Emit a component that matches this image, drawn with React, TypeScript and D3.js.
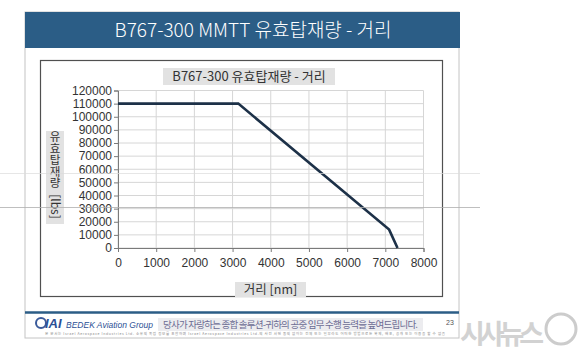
import { useRef, useEffect } from 'react';
import * as d3 from 'd3';

const distanceNm = [0, 3150, 7100, 7320];
const payloadLbs = [110000, 110000, 14000, 0];

const xTicks = [0, 1000, 2000, 3000, 4000, 5000, 6000, 7000, 8000];
const yTicks = [0, 10000, 20000, 30000, 40000, 50000, 60000, 70000, 80000, 90000, 100000, 110000, 120000];

const slideTitle = 'B767-300 MMTT 유효탑재량 - 거리';
const chartTitle = 'B767-300 유효탑재량 - 거리';
const yLabelWord = '유효탑재량';
const yLabelUnit = '[lbs]';
const xLabel = '거리 [nm]';
const footerText = '당사가 자랑하는 종합 솔루션-귀하의 공중 임무 수행 능력을 높여드립니다.';
const finePrint =
  '본 문서는 Israel Aerospace Industries Ltd. 소유의 독점 정보를 포함하며 Israel Aerospace Industries Ltd.의 사전 서면 동의 없이는 전체 또는 일부라도 어떠한 방법으로든 복제, 배포, 공개 또는 이용을 할 수 없음';

const W = 580;
const H = 352;
const KR = '"Noto Sans CJK KR", "Noto Sans", sans-serif';
const LAT = '"Liberation Sans", Arial, sans-serif';

export default function App() {
  const svgRef = useRef<SVGSVGElement>(null);

  useEffect(() => {
    const svg = d3.select(svgRef.current);
    svg.selectAll('*').remove();

    svg.append('rect').attr('width', W).attr('height', H).attr('fill', '#ffffff');

    // slide page
    svg
      .append('rect')
      .attr('x', 25)
      .attr('y', 12)
      .attr('width', 434)
      .attr('height', 326)
      .attr('fill', '#ffffff')
      .attr('stroke', '#c4c4c4')
      .attr('stroke-width', 1);

    // header band
    svg
      .append('rect')
      .attr('x', 25)
      .attr('y', 12)
      .attr('width', 435)
      .attr('height', 36)
      .attr('fill', '#2b5d86');
    svg
      .append('text')
      .attr('x', 253)
      .attr('y', 37)
      .attr('text-anchor', 'middle')
      .attr('fill', '#ffffff')
      .style('font-family', KR)
      .style('font-size', '19px')
      .style('font-weight', '300')
      .text(slideTitle);

    // chart frame
    svg
      .append('rect')
      .attr('x', 40.5)
      .attr('y', 60.5)
      .attr('width', 402)
      .attr('height', 236)
      .attr('fill', '#ffffff')
      .attr('stroke', '#505050')
      .attr('stroke-width', 1.2);

    const x = d3.scaleLinear().domain([0, 8000]).range([118, 423.5]);
    const y = d3.scaleLinear().domain([0, 120000]).range([248, 90.5]);

    // grid
    const grid = svg.append('g');
    xTicks.forEach((t) => {
      grid
        .append('line')
        .attr('x1', x(t))
        .attr('x2', x(t))
        .attr('y1', y(0))
        .attr('y2', y(120000))
        .attr('stroke', '#d6d6d6')
        .attr('stroke-width', 1);
    });
    yTicks.forEach((t) => {
      grid
        .append('line')
        .attr('x1', x(0))
        .attr('x2', x(8000))
        .attr('y1', y(t))
        .attr('y2', y(t))
        .attr('stroke', '#d6d6d6')
        .attr('stroke-width', 1);
    });

    // axes
    const yAxis = svg
      .append('g')
      .attr('transform', `translate(${x(0)},0)`)
      .call(d3.axisLeft(y).tickValues(yTicks).tickFormat(d3.format('d')).tickSize(4).tickPadding(2));
    const xAxis = svg
      .append('g')
      .attr('transform', `translate(0,${y(0)})`)
      .call(d3.axisBottom(x).tickValues(xTicks).tickFormat(d3.format('d')).tickSize(4).tickPadding(6));
    [yAxis, xAxis].forEach((a) => {
      a.select('.domain').attr('stroke', '#7a7a7a');
      a.selectAll('.tick line').attr('stroke', '#7a7a7a');
      a.selectAll('.tick text')
        .attr('fill', '#333333')
        .style('font-family', LAT)
        .style('font-size', '12px');
    });

    // series
    const line = d3
      .line<number>()
      .x((d) => x(d))
      .y((_, i) => y(payloadLbs[i]));
    svg
      .append('path')
      .attr('d', line(distanceNm))
      .attr('fill', 'none')
      .attr('stroke', '#1d3148')
      .attr('stroke-width', 2.6)
      .attr('stroke-linejoin', 'miter');

    // chart title
    svg
      .append('rect')
      .attr('x', 163)
      .attr('y', 68)
      .attr('width', 172)
      .attr('height', 17)
      .attr('fill', '#e2e2e2');
    svg
      .append('text')
      .attr('x', 249)
      .attr('y', 81)
      .attr('text-anchor', 'middle')
      .attr('fill', '#333333')
      .style('font-family', KR)
      .style('font-size', '13px')
      .text(chartTitle);

    // y label: korean upright in vertical writing, unit rotated
    svg
      .append('rect')
      .attr('x', 46)
      .attr('y', 131)
      .attr('width', 18)
      .attr('height', 93)
      .attr('fill', '#e2e2e2');
    svg
      .append('text')
      .attr('x', 55)
      .attr('y', 160)
      .attr('text-anchor', 'middle')
      .attr('fill', '#333333')
      .style('writing-mode', 'vertical-rl')
      .style('text-orientation', 'upright')
      .style('font-family', KR)
      .style('font-size', '11.5px')
      .text(yLabelWord);
    svg
      .append('text')
      .attr('transform', 'translate(51,206.5) rotate(90)')
      .attr('text-anchor', 'middle')
      .attr('fill', '#333333')
      .style('font-family', KR)
      .style('font-size', '12px')
      .text(yLabelUnit);

    // x label
    svg
      .append('rect')
      .attr('x', 235)
      .attr('y', 282)
      .attr('width', 71)
      .attr('height', 15)
      .attr('fill', '#e2e2e2');
    svg
      .append('text')
      .attr('x', 270.5)
      .attr('y', 294)
      .attr('text-anchor', 'middle')
      .attr('fill', '#333333')
      .style('font-family', KR)
      .style('font-size', '12.5px')
      .text(xLabel);

    // footer
    svg
      .append('line')
      .attr('x1', 25)
      .attr('x2', 459)
      .attr('y1', 312.5)
      .attr('y2', 312.5)
      .attr('stroke', '#2b5d86')
      .attr('stroke-width', 2.5);
    svg
      .append('circle')
      .attr('cx', 41)
      .attr('cy', 323)
      .attr('r', 5)
      .attr('fill', 'none')
      .attr('stroke', '#3a5a9a')
      .attr('stroke-width', 2);
    svg
      .append('text')
      .attr('x', 45)
      .attr('y', 328)
      .attr('fill', '#2c4f95')
      .style('font-family', LAT)
      .style('font-size', '13px')
      .style('font-weight', 'bold')
      .style('font-style', 'italic')
      .text('IAI');
    svg
      .append('text')
      .attr('x', 66)
      .attr('y', 328)
      .attr('fill', '#2c4f95')
      .style('font-family', LAT)
      .style('font-size', '8.5px')
      .style('font-style', 'italic')
      .text('BEDEK Aviation Group');
    svg
      .append('rect')
      .attr('x', 158)
      .attr('y', 318)
      .attr('width', 265)
      .attr('height', 13)
      .attr('fill', '#ececef');
    svg
      .append('text')
      .attr('x', 163)
      .attr('y', 328)
      .attr('fill', '#6b6b93')
      .attr('textLength', 255)
      .style('font-family', KR)
      .style('font-size', '9.5px')
      .text(footerText);
    svg
      .append('text')
      .attr('x', 45)
      .attr('y', 335)
      .attr('fill', '#8a8a8a')
      .attr('textLength', 400)
      .style('font-family', KR)
      .style('font-size', '3.5px')
      .text(finePrint);
    svg
      .append('text')
      .attr('x', 446)
      .attr('y', 325)
      .attr('fill', '#555555')
      .style('font-family', LAT)
      .style('font-size', '7px')
      .text('23');

    // watermark
    svg
      .append('text')
      .attr('x', 460)
      .attr('y', 344)
      .attr('fill', '#d2d2d2')
      .attr('textLength', 84)
      .style('font-family', KR)
      .style('font-size', '27px')
      .style('font-weight', 'bold')
      .text('시사뉴스');
    svg
      .append('circle')
      .attr('cx', 561)
      .attr('cy', 329)
      .attr('r', 15)
      .attr('fill', 'none')
      .attr('stroke', '#cccccc')
      .attr('stroke-width', 3);

    // scan artefact lines
    svg
      .append('line')
      .attr('x1', 0)
      .attr('x2', 480)
      .attr('y1', 207.5)
      .attr('y2', 207.5)
      .attr('stroke', '#b0b0b0')
      .attr('stroke-width', 1)
      .attr('opacity', 0.8);
    svg
      .append('line')
      .attr('x1', 0)
      .attr('x2', 480)
      .attr('y1', 173.5)
      .attr('y2', 173.5)
      .attr('stroke', '#dcdcdc')
      .attr('stroke-width', 1)
      .attr('opacity', 0.7);
  }, []);

  return (
    <svg
      ref={svgRef}
      width={W}
      height={H}
      style={{ position: 'absolute', left: 0, top: 0, display: 'block' }}
    />
  );
}
